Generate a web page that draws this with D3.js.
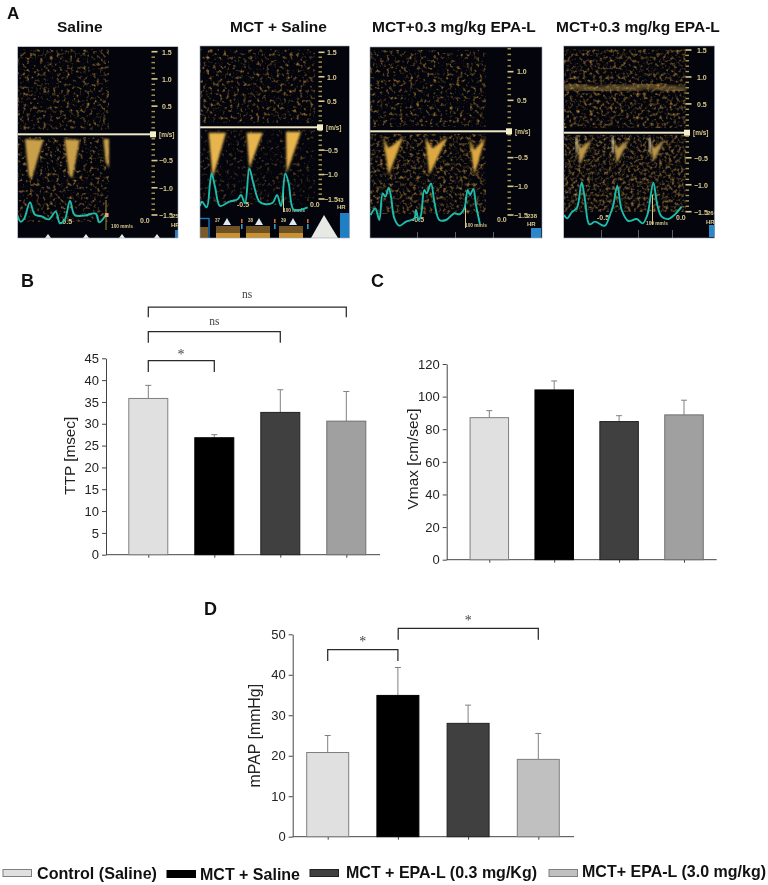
<!DOCTYPE html>
<html><head><meta charset="utf-8">
<script src="https://cdn.jsdelivr.net/npm/d3@7/dist/d3.min.js"></script>
<style>html,body{margin:0;padding:0;background:#fff}svg{display:block;opacity:.999}text{font-family:"Liberation Sans",Arial,sans-serif}</style>
</head><body><div id="c"></div>
<script>
// ---------- data ----------
const groupKeys = ["Control","MCT","EPA03","EPA30"];
const ttpValues = [35.8,26.8,32.6,30.6];
const ttpErrTop = [38.8,27.5,37.8,37.4];
const ttpTicks = [0,5,10,15,20,25,30,35,40,45];
const vmaxValues = [87.1,104.1,84.7,88.8];
const vmaxErrTop = [91.4,109.6,88.3,97.8];
const vmaxTicks = [0,20,40,60,80,100,120];
const mpapValues = [20.8,34.9,28,19.1];
const mpapErrTop = [25,41.8,32.5,25.5];
const mpapTicks = [0,10,20,30,40,50];
const legendLabels = ["Control (Saline)","MCT + Saline","MCT + EPA-L (0.3 mg/Kg)","MCT+ EPA-L (3.0 mg/kg)"];
const panelTitles = ["Saline","MCT + Saline","MCT+0.3 mg/kg EPA-L","MCT+0.3 mg/kg EPA-L"];
const velocityTicks = [1.5,1,0.5,-0.5,-1,-1.5];
const heartRates = ["25","43","238","266"];
// ECG traces and Doppler wedges (sample index, level)
const ecg1 = [[10,270],[20,290],[30,282],[48,232],[62,268],[85,275],[105,283],[125,260],[138,295],[152,285],[168,228],[182,270],[210,272],[245,266],[256,292],[275,270]];
const ecg2 = [[12,258],[18,245],[32,262],[42,190],[47,160],[58,205],[72,258],[100,245],[125,238],[135,225],[147,250],[160,145],[172,190],[190,245],[205,252],[230,248],[243,225],[255,258],[268,160],[278,190],[292,268],[310,270],[335,262]];
const ecg3 = [[14,270],[28,250],[40,285],[50,205],[58,215],[68,188],[75,215],[85,280],[100,302],[120,290],[145,280],[150,255],[158,285],[165,270],[175,195],[182,205],[195,175],[205,230],[220,285],[240,285],[265,265],[280,268],[295,250],[305,195],[312,210],[322,192],[330,240],[342,298]];
const ecg4 = [[12,270],[22,280],[35,262],[50,250],[55,235],[65,172],[75,225],[88,298],[105,290],[125,300],[135,302],[150,270],[160,240],[172,182],[185,255],[205,288],[230,282],[248,295],[262,270],[280,173],[292,240],[305,275],[325,282],[345,268],[365,245]];
const wedges1 = [[[33,42],[88,45],[52,165],[44,150]],[[152,42],[197,45],[175,160],[165,150]],[[268,42],[285,42],[285,130],[275,110]]];
const wedges2 = [[[38,38],[90,38],[50,175]],[[152,38],[200,38],[160,145]],[[270,35],[315,35],[272,160]]];
const wedges3 = [[[52,38],[68,70],[112,35],[68,150]],[[178,38],[200,70],[245,35],[190,150]],[[310,38],[325,75],[358,38],[325,150]]];
const wedges4 = [[[48,35],[62,70],[95,42],[60,120]],[[158,35],[172,70],[208,42],[170,115]],[[268,38],[282,70],[315,42],[280,110]]];
const streaks4 = [[[47,35],[52,35],[52,85],[48,85]],[[156,35],[161,35],[161,85],[157,85]],[[267,38],[272,38],[272,85],[268,85]]];
const band4 = [[0,88],[12,85],[30,89],[45,91],[60,86],[78,90],[100,84],[125,89],[150,90]];

// ---------- layout ----------
const W=768,H=885;
const svg=d3.select("#c").append("svg").attr("width",W).attr("height",H).attr("viewBox",[0,0,W,H]);
const defs=svg.append("defs");
function speckle(id,freq,seed,gain,cut,sd,col){
  const f=defs.append("filter").attr("id",id).attr("x",0).attr("y",0).attr("width","100%").attr("height","100%").attr("color-interpolation-filters","sRGB");
  f.append("feTurbulence").attr("type","fractalNoise").attr("baseFrequency",freq).attr("numOctaves",2).attr("seed",seed);
  f.append("feColorMatrix").attr("values",`0 0 0 0 ${col[0]}  0 0 0 0 ${col[1]}  0 0 0 0 ${col[2]}  ${gain} 0 0 0 ${cut}`);
  f.append("feGaussianBlur").attr("stdDeviation",sd);
}
speckle("spDim",0.3,3,2.6,-1.38,0.55,[0.68,0.5,0.2]);
speckle("spDark",0.3,5,2.2,-1.25,0.55,[0.6,0.43,0.16]);
speckle("spMid",0.3,7,2.4,-1.17,0.55,[0.68,0.5,0.2]);
speckle("spDense",0.32,9,2.2,-1.0,0.55,[0.66,0.5,0.22]);
[["soft",1.1],["soft2",1.8]].forEach(([id,s])=>{
  defs.append("filter").attr("id",id).attr("x","-20%").attr("y","-20%").attr("width","140%").attr("height","140%").append("feGaussianBlur").attr("stdDeviation",s);
});

const panels=[
 {title:panelTitles[0],tx:57,x0:17.7,x1:178,y0:46.7,y1:238,v15:51.7,vm15:215,zero:134.3,scanEnd:109,sq:153,org:[14,125],ecg:ecg1,wedges:wedges1,spT:"spDim",spB:"spDim",wf:"#c9a04a",labX:162,hrX:172,
  neg:[60,224],z:[140,223],mm:[111,228],hr:[171,227],lowEnd:222,extra:"tri"},
 {title:panelTitles[1],tx:230,x0:200,x1:349.5,y0:46,y1:238,v15:52.3,vm15:199,zero:127.3,scanEnd:315,sq:320,org:[196,120],ecg:ecg2,wedges:wedges2,spT:"spDim",spB:"spDark",wf:"#e6b54e",labX:327,hrX:337,
  neg:[237,207],z:[310,207],mm:[283,212],hr:[337,209],lowEnd:205,extra:"strip",cursor:[283,185,212]},
 {title:panelTitles[2],tx:372,x0:370,x1:542,y0:47,y1:238,v15:43,vm15:215,zero:131.3,scanEnd:486,sq:509,org:[366,125],ecg:ecg3,wedges:wedges3,spT:"spDim",spB:"spMid",wf:"#dca843",labX:517,hrX:527,
  neg:[412,222],z:[497,222],mm:[465,227],hr:[527,226],lowEnd:214,extra:"icon",cursor:[465,197,228]},
 {title:panelTitles[3],tx:556,x0:563.7,x1:714.7,y0:46,y1:238,v15:50,vm15:211.7,zero:132.7,scanEnd:686,sq:687,org:[560,125],ecg:ecg4,wedges:wedges4,spT:"spMid",spB:"spDense",wf:"#b9964a",labX:697,hrX:707,
  neg:[597,220],z:[676,220],mm:[646,225],hr:[706,224],lowEnd:212,extra:"icon2",cursor:[652,195,225],streaks:streaks4,band:band4}
];
const cream="#d8c98c";
panels.forEach((p,i)=>{
  svg.append("text").attr("x",p.tx).attr("y",31.5).attr("font-size",15.5).attr("font-weight","700").attr("fill","#111").text(p.title);
  const clipId="clip"+i;
  defs.append("clipPath").attr("id",clipId).append("rect").attr("x",p.x0).attr("y",p.y0).attr("width",p.x1-p.x0).attr("height",p.y1-p.y0);
  const g=svg.append("g").attr("clip-path",`url(#${clipId})`);
  g.append("rect").attr("x",p.x0).attr("y",p.y0).attr("width",p.x1-p.x0).attr("height",p.y1-p.y0).attr("fill","#04050c");
  const vy=d3.scaleLinear().domain([1.5,-1.5]).range([p.v15,p.vm15]);
  const sx=p.x0, sw=p.scanEnd-p.x0;
  g.append("rect").attr("x",sx).attr("y",p.y0+3).attr("width",sw).attr("height",p.zero-p.y0-8).attr("fill","#000").attr("filter",`url(#${p.spT})`);
  g.append("rect").attr("x",sx).attr("y",p.zero+3).attr("width",sw).attr("height",p.lowEnd-p.zero-3).attr("fill","#000").attr("filter",`url(#${p.spB})`);
  const tx=d3.scaleLinear().domain([0,300]).range([p.org[0],p.org[0]+100]);
  const ty=d3.scaleLinear().domain([0,300]).range([p.org[1],p.org[1]+100]);
  const line=d3.line().x(d=>tx(d[0])).y(d=>ty(d[1])).curve(d3.curveCatmullRom);
  const poly=d3.line().x(d=>tx(d[0])).y(d=>ty(d[1])).curve(d3.curveLinearClosed);
  if(p.band) g.append("path").attr("d",d3.line().x(d=>sx+d[0]*sw/150).y(d=>d[1]).curve(d3.curveBasis)(p.band)).attr("fill","none").attr("stroke","#a98a45").attr("stroke-width",7).attr("opacity",0.5).attr("filter","url(#soft2)");
  g.append("g").selectAll("path").data(p.wedges).join("path").attr("d",poly).attr("fill",p.wf).attr("filter","url(#soft)");
  if(p.streaks) g.append("g").selectAll("path").data(p.streaks).join("path").attr("d",poly).attr("fill","#f2e6bc").attr("filter","url(#soft)");
  // velocity scale
  const minor=d3.range(-1.4,1.5,0.1).filter(v=>Math.abs(v)>0.08&&Math.abs(Math.round(v*2)/2-v)>0.04);
  g.append("g").selectAll("rect").data(minor).join("rect").attr("x",p.sq-1.5).attr("y",d=>vy(d)-0.7).attr("width",3.5).attr("height",1.4).attr("fill","#a8984f");
  g.append("g").selectAll("rect").data(velocityTicks).join("rect").attr("x",p.sq-1.5).attr("y",d=>vy(d)-0.8).attr("width",6).attr("height",1.6).attr("fill",cream);
  g.append("g").selectAll("text").data(velocityTicks).join("text").attr("x",d=>d<0?p.labX-3:p.labX).attr("y",d=>vy(d)+2.8).attr("font-size",7).attr("font-weight","700").attr("fill",cream).text(d=>d3.format(".1f")(d));
  g.append("text").attr("x",p.hrX).attr("y",vy(-1.5)+2.8).attr("font-size",6).attr("font-weight","700").attr("fill",cream).text(heartRates[i]);
  g.append("text").attr("x",p.sq+6).attr("y",p.zero+2.5).attr("font-size",6.5).attr("font-weight","700").attr("fill",cream).text("[m/s]");
  // baseline
  g.append("rect").attr("x",p.x0).attr("y",p.zero-1).attr("width",p.sq-p.x0).attr("height",2).attr("fill","#efe8c8");
  g.append("rect").attr("x",p.sq-3).attr("y",p.zero-3).attr("width",6).attr("height",6).attr("fill","#f3efc9");
  // lower captions
  const cap=(a,t,fs)=>g.append("text").attr("x",a[0]).attr("y",a[1]).attr("font-size",fs).attr("font-weight","700").attr("fill",cream).text(t);
  if(p.cursor) g.append("rect").attr("x",p.cursor[0]).attr("y",p.cursor[1]).attr("width",1).attr("height",p.cursor[2]-p.cursor[1]).attr("fill","#d8c890");
  cap(p.neg,"-0.5",7); cap(p.z,"0.0",7); cap(p.mm,"100 mm/s",4.8); cap(p.hr,"HR",6);
  // ECG
  g.append("path").attr("d",line(p.ecg)).attr("fill","none").attr("stroke","#1dbdac").attr("stroke-width",1.9);
  const base=p.y1;
  if(p.extra=="tri"){
    g.append("g").selectAll("path").data([48,86,122,157]).join("path").attr("d",d=>`M${d-3},${base}l3,-4l3,4z`).attr("fill","#eee");
    g.append("rect").attr("x",p.x1-3).attr("y",base-8).attr("width",3).attr("height",8).attr("fill","#2a7ec0");
    g.append("rect").attr("x",105.5).attr("y",200).attr("width",1).attr("height",30).attr("fill","#a08830");
    g.append("rect").attr("x",105).attr("y",213).attr("width",3.5).attr("height",4).attr("fill","#e9a070");
  }
  if(p.extra=="strip"){
    g.append("rect").attr("x",199).attr("y",218.5).attr("width",10).attr("height",21).attr("fill","none").attr("stroke","#1878c8").attr("stroke-width",1.4);
    g.append("rect").attr("x",200).attr("y",227).attr("width",8).attr("height",11).attr("fill","#7a5a28");
    g.append("g").selectAll("rect").data([216,246,279]).join("rect").attr("x",d=>d).attr("y",226).attr("width",24).attr("height",12).attr("fill","#6e5226");
    g.append("g").selectAll("rect").data([216,246,279]).join("rect").attr("x",d=>d).attr("y",233).attr("width",24).attr("height",5).attr("fill","#c99230");
    g.append("g").selectAll("path").data([227,259,293]).join("path").attr("d",d=>`M${d-4},225l4,-7l4,7z`).attr("fill","#dfe8ee");
    g.append("g").selectAll("text").data([[215,"37"],[248,"38"],[281,"39"]]).join("text").attr("x",d=>d[0]).attr("y",222).attr("font-size",4.5).attr("font-weight","700").attr("fill",cream).text(d=>d[1]);
    g.append("g").selectAll("rect").data([241,274,307]).join("rect").attr("x",d=>d).attr("y",219).attr("width",1.6).attr("height",4).attr("fill","#d86a30");
    g.append("g").selectAll("rect").data([241,274,307]).join("rect").attr("x",d=>d).attr("y",224).attr("width",1.6).attr("height",5).attr("fill","#2a9cc8");
    g.append("path").attr("d","M311,238L324,215L338,238z").attr("fill","#e8e8e4");
    g.append("rect").attr("x",340).attr("y",213).attr("width",9.5).attr("height",25).attr("fill","#1f7fc4");
  }
  if(p.extra=="icon"){
    g.append("rect").attr("x",531).attr("y",228).attr("width",10).attr("height",10).attr("fill","#2a88c8");
    g.append("g").selectAll("rect").data([417,455,493]).join("rect").attr("x",d=>d).attr("y",232).attr("width",.8).attr("height",6).attr("fill","#777");
  }
  if(p.extra=="icon2"){
    g.append("rect").attr("x",709).attr("y",225).attr("width",6).attr("height",12).attr("fill","#2a88c8");
    g.append("g").selectAll("rect").data([601,638,672]).join("rect").attr("x",d=>d).attr("y",230).attr("width",.8).attr("height",8).attr("fill","#777");
  }
  svg.append("rect").attr("x",p.x0).attr("y",p.y0).attr("width",p.x1-p.x0).attr("height",p.y1-p.y0).attr("fill","none").attr("stroke","#9aa4b4").attr("stroke-width",0.6);
});

// panel letters
[["A",7,19,17],["B",21,287,18],["C",371,287,18],["D",204,615,18]].forEach(d=>{
  svg.append("text").attr("x",d[1]).attr("y",d[2]).attr("font-size",d[3]).attr("font-weight","700").attr("fill","#111").text(d[0]);
});

// bar charts
function barChart(o){
  const g=svg.append("g");
  const y=d3.scaleLinear().domain(o.domain).range([o.y0,o.yTop]);
  const x=d3.scalePoint().domain(groupKeys).range([o.c0,o.c3]);
  const ax=g.append("g").attr("transform",`translate(${o.ax},0)`).call(d3.axisLeft(y).tickValues(o.ticks).tickSize(4).tickSizeOuter(0).tickPadding(3));
  ax.select(".domain").attr("stroke","#444").attr("stroke-width",1);
  ax.selectAll(".tick line").attr("stroke","#444");
  ax.selectAll("text").attr("font-size",o.fs).attr("fill","#222").attr("font-family",'"Liberation Sans"');
  const bx=g.append("g").attr("transform",`translate(0,${o.y0})`).call(d3.axisBottom(x).tickSize(3).tickFormat(""));
  bx.select(".domain").attr("d",`M${o.ax},0H${o.end}`).attr("stroke","#444").attr("stroke-width",1);
  bx.selectAll(".tick line").attr("stroke","#444");
  g.append("g").selectAll("line").data(groupKeys).join("line").attr("x1",d=>x(d)).attr("x2",d=>x(d)).attr("y1",(d,i)=>y(o.vals[i])).attr("y2",(d,i)=>y(o.err[i])).attr("stroke","#808080").attr("stroke-width",1);
  g.append("g").selectAll("line").data(groupKeys).join("line").attr("x1",d=>x(d)-3).attr("x2",d=>x(d)+3).attr("y1",(d,i)=>y(o.err[i])).attr("y2",(d,i)=>y(o.err[i])).attr("stroke","#808080").attr("stroke-width",1);
  g.append("g").selectAll("rect").data(groupKeys).join("rect").attr("x",d=>x(d)-o.bw/2).attr("width",o.bw).attr("y",(d,i)=>y(o.vals[i])).attr("height",(d,i)=>o.y0-y(o.vals[i]))
    .attr("fill",(d,i)=>o.fills[i]).attr("stroke",(d,i)=>o.strokes[i]).attr("stroke-width",1);
  g.append("text").attr("transform",`translate(${o.tx},${o.ty}) rotate(-90)`).attr("text-anchor","middle").attr("font-size",o.tfs).attr("fill","#222").text(o.title);
  return {x,y};
}
function bracket(x1,x2,yTop,yLeg,label,lx,ly){
  svg.append("path").attr("d",`M${x1},${yLeg}V${yTop}H${x2}V${yLeg}`).attr("fill","none").attr("stroke","#2a2a2a").attr("stroke-width",1.25);
  svg.append("text").attr("x",lx).attr("y",ly).attr("text-anchor","middle").attr("font-size",label=="*"?14:11.5).attr("fill","#444").style("font-family",'"Liberation Serif",serif').text(label);
}
const B=barChart({title:"TTP [msec]",domain:[0,45],ticks:ttpTicks,vals:ttpValues,err:ttpErrTop,ax:106,y0:554.7,yTop:358.3,c0:148.3,c3:346.3,bw:39,end:380,fs:13,tfs:15.3,tx:75,ty:455.7,
  fills:["#e0e0e0","#000","#404040","#a0a0a0"],strokes:["#7f7f7f","#000","#222","#6f6f6f"]});
const C=barChart({title:"Vmax [cm/sec]",domain:[0,120],ticks:vmaxTicks,vals:vmaxValues,err:vmaxErrTop,ax:446.7,y0:559.7,yTop:364,c0:489.3,c3:684,bw:38.5,end:716.7,fs:13,tfs:15.4,tx:418,ty:459,
  fills:["#e0e0e0","#000","#404040","#a0a0a0"],strokes:["#7f7f7f","#000","#222","#6f6f6f"]});
const D=barChart({title:"mPAP [mmHg]",domain:[0,50],ticks:mpapTicks,vals:mpapValues,err:mpapErrTop,ax:292.7,y0:836.7,yTop:634.3,c0:327.7,c3:538.3,bw:42,end:574,fs:13,tfs:15.9,tx:260,ty:735.7,
  fills:["#e0e0e0","#000","#404040","#c0c0c0"],strokes:["#7f7f7f","#000","#222","#7f7f7f"]});

const bx=B.x, dx=D.x;
bracket(bx("Control"),bx("EPA30"),307,317.3,"ns",247,298);
bracket(bx("Control"),bx("EPA03"),331.7,342.7,"ns",214.3,324.7);
bracket(bx("Control"),bx("MCT"),360.7,372,"*",181,359);
bracket(dx("Control"),dx("MCT"),649.7,661,"*",362.7,646);
bracket(dx("MCT")+.3,dx("EPA30"),628.3,639.7,"*",468.3,625);

// legend
const legendLayout=[{sx:3,tx:37,w:120,y:879,by:873,f:"#e0e0e0",s:"#7f7f7f"},{sx:167,tx:200,w:100,y:880,by:874,f:"#000",s:"#000"},{sx:310,tx:346,w:191,y:878,by:873,f:"#404040",s:"#222"},{sx:549,tx:582,w:184,y:877,by:873,f:"#c0c0c0",s:"#7f7f7f"}];
const lg=svg.append("g");
lg.selectAll("rect").data(legendLayout).join("rect").attr("x",d=>d.sx).attr("y",d=>d.by-3.5).attr("width",28.5).attr("height",7).attr("fill",d=>d.f).attr("stroke",d=>d.s).attr("stroke-width",1);
lg.selectAll("text").data(legendLayout).join("text").attr("x",d=>d.tx).attr("y",d=>d.y).attr("font-size",16.2).attr("font-weight","700").attr("fill","#111")
  .attr("textLength",d=>d.w).attr("lengthAdjust","spacingAndGlyphs").text((d,i)=>legendLabels[i]);
</script></body></html>
